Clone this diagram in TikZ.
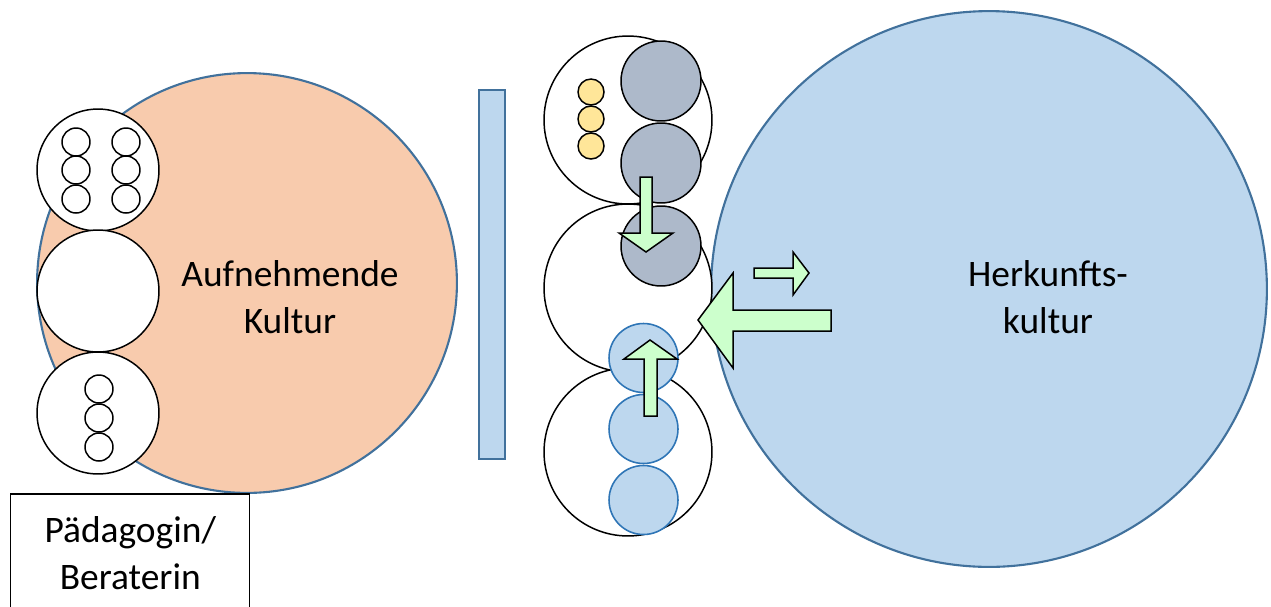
\documentclass[tikz,border=0pt]{standalone}
\usepackage{fontspec}
\setmainfont{Carlito}
\definecolor{peach}{HTML}{F8CBAD}
\definecolor{paleblue}{HTML}{BDD7EE}
\definecolor{rimblue}{HTML}{41719C}
\definecolor{ringblue}{HTML}{2E75B6}
\definecolor{slate}{HTML}{ADB9CA}
\definecolor{sand}{HTML}{FFE699}
\definecolor{mint}{HTML}{CCFFCC}
\begin{document}
\begin{tikzpicture}[x=0.02cm,y=-0.02cm,
  disc/.style={circle, inner sep=0pt, minimum size=#1*0.04cm},
  ring/.style={disc=#1, draw=black, line width=0.85pt, fill=white},
  culture/.style={disc=#1, draw=rimblue, line width=1.2pt},
  greydot/.style={disc=#1, draw=black, line width=0.85pt, fill=slate},
  yellowdot/.style={disc=#1, draw=black, line width=0.85pt, fill=sand},
  bluedot/.style={disc=#1, draw=ringblue, line width=0.9pt, fill=paleblue},
  arrowshape/.style={draw=black, line width=0.85pt, fill=mint, line join=miter},
  label/.style={align=center, font=\fontsize{21.3}{27}\selectfont, inner sep=0pt}]
\useasboundingbox (0,0) rectangle (1271,606);
\clip (0,0) rectangle (1271,606);

% receiving culture with its three members
\node[culture=210, fill=peach] (host) at (247,283) {};
\node[ring=61] (h1) at (98,170) {};
\node[ring=61] (h2) at (98,291) {};
\node[ring=61] (h3) at (98,413) {};
\foreach \cx/\c in {76/a,126/b}
  \foreach \cy/\r in {142/1,170/2,199/3}
    \node[ring=14] (h1\c\r) at (\cx,\cy) {};
\foreach \cy/\r in {389/1,418/2,447/3}
  \node[ring=14] (h3\r) at (99,\cy) {};
\node[label] (hosttext) at (290,297) {Aufnehmende\\Kultur};

% barrier
\node[draw=rimblue, fill=paleblue, line width=1.2pt, inner sep=0pt,
      minimum width=26*0.02cm, minimum height=369*0.02cm] (wall) at (492,274.5) {};

% culture of origin
\node[culture=278, fill=paleblue] (origin) at (989,289) {};
\node[label] (origintext) at (1048,297) {Herkunfts-\\kultur};

% migrating family
\node[ring=84] (m1) at (628,120) {};
\node[greydot=40] (g1) at (661,81) {};
\node[greydot=40] (g2) at (661,163) {};
\foreach \cy/\r in {92/1,119/2,146/3}
  \node[yellowdot=13] (y\r) at (591,\cy) {};
\node[ring=84] (m2) at (628,288) {};
\node[greydot=40] (g3) at (661,246) {};
\node[ring=84] (m3) at (628,452) {};
\node[bluedot=34.5] (b1) at (643.5,358) {};
\node[bluedot=34.5] (b2) at (643.5,429) {};
\node[bluedot=34.5] (b3) at (643.5,500) {};

% movement arrows
\draw[arrowshape] (640,177) -- (652,177) -- (652,233) -- (673,233) -- (646,252)
  -- (619,233) -- (640,233) -- cycle;
\draw[arrowshape] (644,416) -- (657,416) -- (657,359) -- (677,359) -- (650,340)
  -- (624,359) -- (644,359) -- cycle;
\draw[arrowshape] (831,310) -- (733,310) -- (733,273) -- (698,320) -- (733,368)
  -- (733,331) -- (831,331) -- cycle;
\draw[arrowshape] (754,268) -- (793,268) -- (793,252) -- (809,273) -- (793,295)
  -- (793,278) -- (754,278) -- cycle;

% counsellor
\node[draw=black, line width=0.85pt, fill=white, anchor=north west, inner sep=0pt,
      minimum width=239*0.02cm, minimum height=119*0.02cm] (box) at (10,493) {};
\node[label] (boxtext) at (box.center) {Pädagogin/\\Beraterin};
\end{tikzpicture}
\end{document}
